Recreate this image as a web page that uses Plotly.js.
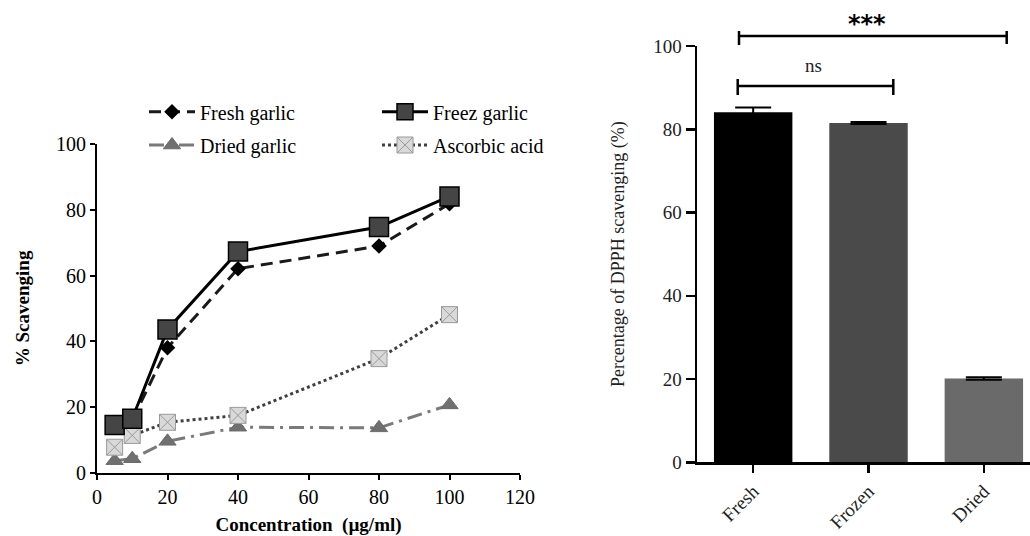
<!DOCTYPE html>
<html>
<head>
<meta charset="utf-8">
<script src="https://cdn.plot.ly/plotly-3.0.1.min.js"></script>
<style>html,body{margin:0;padding:0;background:#fff}#chart{width:1030px;height:536px}</style>
</head>
<body>
<div id="chart"></div>
<script>
// ---- data (left chart) ----
var concentration = [5, 10, 20, 40, 80, 100];
var freshGarlic   = [14.2, 16.0, 38.0, 62.1, 69.0, 81.9];
var freezGarlic   = [14.5, 16.4, 43.6, 67.3, 74.8, 84.1];
var driedGarlic   = [3.6, 4.2, 9.5, 13.8, 13.6, 20.6];
var ascorbicAcid  = [7.7, 11.3, 15.3, 17.4, 34.7, 48.1];
var seriesNames   = ['Fresh garlic', 'Freez garlic', 'Dried garlic', 'Ascorbic acid'];

// ---- data (right chart) ----
var barCategories = ['Fresh', 'Frozen', 'Dried'];
var barValues     = [84.1, 81.5, 20.1];
var barErrors     = [1.1, 0.25, 0.3];
var barColors     = ['#000000', '#4a4a4a', '#6a6a6a'];
var sigLabels     = ['***', 'ns'];

var W = 1030, H = 536;
function px(x){ return x / W; }
function py(y){ return 1 - y / H; }
var serif = '"Liberation Serif", "Times New Roman", serif';

var traces = [
  {x: concentration, y: driedGarlic, name: seriesNames[2], mode: 'lines+markers', legend: 'legend2',
   line: {color: '#7a7a7a', width: 3, dash: 'longdashdot'},
   marker: {symbol: 'triangle-up', size: 15, color: '#707070', line: {color: '#6a6a6a', width: 1}}},
  {x: concentration, y: ascorbicAcid, name: seriesNames[3], mode: 'lines+markers', legend: 'legend2',
   line: {color: '#404040', width: 3, dash: 'dot'},
   marker: {symbol: 'square-x', size: 16, color: '#d9d9d9', line: {color: '#9a9a9a', width: 1}}},
  {x: concentration, y: freshGarlic, name: seriesNames[0], mode: 'lines+markers', legend: 'legend',
   line: {color: '#1a1a1a', width: 3, dash: '12px,7px'},
   marker: {symbol: 'diamond', size: 12, color: '#000000'}},
  {x: concentration, y: freezGarlic, name: seriesNames[1], mode: 'lines+markers', legend: 'legend',
   line: {color: '#000000', width: 3},
   marker: {symbol: 'square', size: 19, color: '#454545', line: {color: '#000000', width: 1.5}}},
  {x: barCategories, y: barValues, type: 'bar', xaxis: 'x2', yaxis: 'y2', showlegend: false,
   width: 0.68,
   marker: {color: barColors, line: {width: 0}},
   error_y: {type: 'data', array: barErrors, visible: true, color: '#000000', thickness: 2, width: 18}}
];

var axisFont = {family: serif, size: 20, color: '#000'};
var legendFont = {family: serif, size: 20, color: '#000'};
var layout = {
  width: W, height: H,
  margin: {l: 0, r: 0, t: 0, b: 0},
  paper_bgcolor: '#fff', plot_bgcolor: 'rgba(0,0,0,0)',
  font: {family: serif, color: '#000'},
  xaxis: {
    domain: [px(97), px(520)], range: [0, 120], tickvals: [0, 20, 40, 60, 80, 100, 120],
    showgrid: false, zeroline: false, showline: true, linecolor: '#000', linewidth: 2,
    ticks: 'outside', ticklen: 5, tickwidth: 2, tickcolor: '#000', tickfont: axisFont,
    title: {text: '<b>Concentration  (µg/ml)</b>', font: {family: serif, size: 19}, standoff: 12}
  },
  yaxis: {
    domain: [py(472.5), py(144.3)], range: [0, 100], tickvals: [0, 20, 40, 60, 80, 100],
    showgrid: false, zeroline: false, showline: true, linecolor: '#000', linewidth: 2,
    ticks: 'outside', ticklen: 5, tickwidth: 2, tickcolor: '#000', tickfont: axisFont,
    title: {text: '<b>% Scavenging</b>', font: {family: serif, size: 19}, standoff: 21}
  },
  xaxis2: {
    domain: [px(697), 1], range: [-0.487, 2.4], anchor: 'y2',
    showgrid: false, zeroline: false, showline: true, linecolor: '#000', linewidth: 2.5,
    ticks: 'outside', ticklen: 8, tickwidth: 2.5, tickcolor: '#000', tickangle: -45,
    tickfont: {family: serif, size: 19, color: '#222'}
  },
  yaxis2: {
    domain: [py(462.3), py(46)], range: [0, 100], anchor: 'x2', tickvals: [0, 20, 40, 60, 80, 100],
    showgrid: false, zeroline: false, showline: true, linecolor: '#000', linewidth: 2.5,
    ticks: 'outside', ticklen: 9, tickwidth: 2.5, tickcolor: '#000',
    tickfont: {family: serif, size: 19, color: '#222'},
    title: {text: 'Percentage of DPPH scavenging (%)', font: {family: serif, size: 18, color: '#222'}, standoff: 24}
  },
  legend: {
    orientation: 'h', x: px(144), y: py(111.7), xanchor: 'left', yanchor: 'middle', itemwidth: 46,
    entrywidth: 172, bgcolor: 'rgba(0,0,0,0)', font: legendFont
  },
  legend2: {
    orientation: 'h', x: px(144), y: py(145), xanchor: 'left', yanchor: 'middle', itemwidth: 46,
    entrywidth: 172, bgcolor: 'rgba(0,0,0,0)', font: legendFont
  },
  shapes: [
    {type: 'line', xref: 'paper', yref: 'paper', x0: px(739), x1: px(1006.7), y0: py(36), y1: py(36), line: {color: '#000', width: 2.5}},
    {type: 'line', xref: 'paper', yref: 'paper', x0: px(739), x1: px(739), y0: py(31), y1: py(45), line: {color: '#000', width: 2.5}},
    {type: 'line', xref: 'paper', yref: 'paper', x0: px(1006.7), x1: px(1006.7), y0: py(31), y1: py(44), line: {color: '#000', width: 2.5}},
    {type: 'line', xref: 'paper', yref: 'paper', x0: px(737.7), x1: px(893.3), y0: py(86), y1: py(86), line: {color: '#000', width: 2.5}},
    {type: 'line', xref: 'paper', yref: 'paper', x0: px(737.7), x1: px(737.7), y0: py(79), y1: py(95), line: {color: '#000', width: 2.5}},
    {type: 'line', xref: 'paper', yref: 'paper', x0: px(893.3), x1: px(893.3), y0: py(79), y1: py(95), line: {color: '#000', width: 2.5}}
  ],
  annotations: [
    {xref: 'paper', yref: 'paper', x: px(867), y: py(24), xanchor: 'center', yanchor: 'middle',
     text: '<b>' + sigLabels[0] + '</b>', showarrow: false,
     font: {family: '"DejaVu Sans", sans-serif', size: 24, color: '#000'}},
    {xref: 'paper', yref: 'paper', x: px(813), y: py(65), xanchor: 'center', yanchor: 'middle',
     text: sigLabels[1], showarrow: false,
     font: {family: serif, size: 19, color: '#222'}}
  ]
};

Plotly.newPlot('chart', traces, layout, {displayModeBar: false, staticPlot: true});
</script>
</body>
</html>
